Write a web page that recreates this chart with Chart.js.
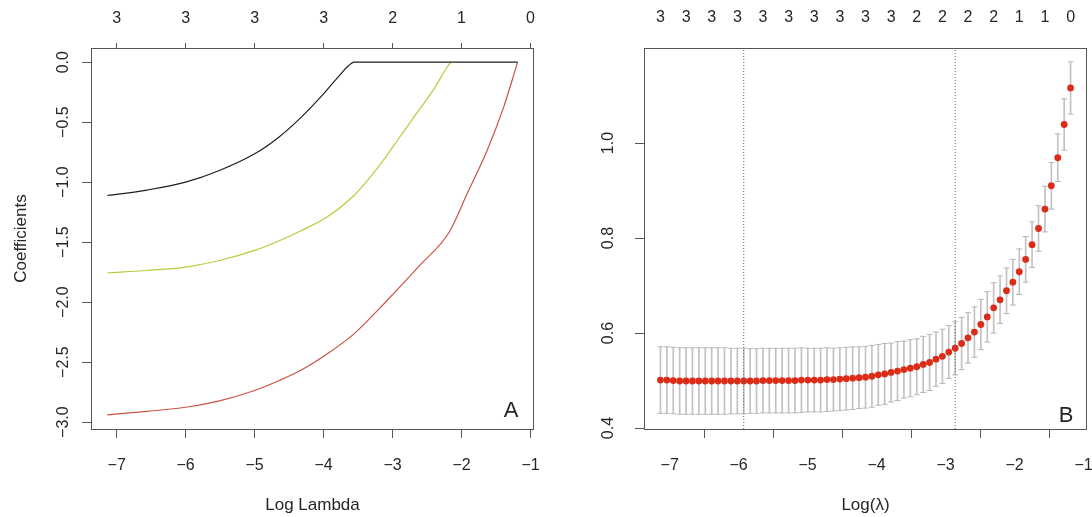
<!DOCTYPE html>
<html><head><meta charset="utf-8">
<script src="https://cdn.jsdelivr.net/npm/chart.js@4.4.1/dist/chart.umd.min.js"></script>
<style>
html,body{margin:0;padding:0;background:#fff;}
#wrap{position:relative;width:1092px;height:517px;background:#fff;}
canvas{position:absolute;top:0;}
#cA{left:0;} #cB{left:546px;}
</style></head><body>
<div id="wrap"><canvas id="cA" width="546" height="517"></canvas><canvas id="cB" width="546" height="517"></canvas></div>
<script>
// ---------- Panel A: coefficient paths ----------
const xTickValues = [-7, -6, -5, -4, -3, -2, -1];
const topLabelsA = ['3', '3', '3', '3', '2', '1', '0'];
const yTicksA = [-3, -2.5, -2, -1.5, -1, -0.5, 0];

const blackX = [-7.134, -6.56, -6.00, -5.51, -5.00, -4.65, -4.33, -4.04, -3.75, -3.64, -3.56, -1.188];
const blackY = [-1.111, -1.066, -1.000, -0.903, -0.764, -0.625, -0.462, -0.290, -0.097, -0.030, 0, 0];

const yellowX = [-7.134, -6.56, -6.00, -5.51, -5.00, -4.65, -4.33, -3.95, -3.56, -3.17, -2.88, -2.64, -2.40, -2.21, -2.16];
const yellowY = [-1.755, -1.736, -1.708, -1.653, -1.569, -1.490, -1.405, -1.290, -1.111, -0.845, -0.611, -0.417, -0.222, -0.042, 0];

const redX = [-7.134, -6.56, -6.00, -5.51, -5.00, -4.65, -4.33, -3.95, -3.56, -3.08, -2.60, -2.18, -1.92, -1.63, -1.39, -1.24, -1.188];
const redY = [-2.939, -2.910, -2.876, -2.822, -2.736, -2.655, -2.568, -2.432, -2.264, -1.986, -1.690, -1.417, -1.097, -0.736, -0.375, -0.100, 0];

// ---------- Panel B: cross-validation curve ----------
const logLambda = [-7.134, -7.041, -6.948, -6.855, -6.762, -6.670, -6.577, -6.484, -6.391, -6.298,
  -6.205, -6.112, -6.019, -5.926, -5.833, -5.741, -5.648, -5.555, -5.462, -5.369,
  -5.276, -5.183, -5.090, -4.997, -4.904, -4.812, -4.719, -4.626, -4.533, -4.440,
  -4.347, -4.254, -4.161, -4.068, -3.975, -3.883, -3.790, -3.697, -3.604, -3.511,
  -3.418, -3.325, -3.232, -3.139, -3.046, -2.954, -2.861, -2.768, -2.675, -2.582,
  -2.489, -2.396, -2.303, -2.210, -2.117, -2.025, -1.932, -1.839, -1.746, -1.653,
  -1.560, -1.467, -1.374, -1.281, -1.188];
const cvMean = [0.501, 0.501, 0.500, 0.499, 0.499, 0.499, 0.499, 0.499, 0.499, 0.499,
  0.499, 0.499, 0.499, 0.499, 0.499, 0.499, 0.500, 0.500, 0.500, 0.500,
  0.500, 0.500, 0.501, 0.501, 0.501, 0.501, 0.502, 0.502, 0.503, 0.504,
  0.505, 0.506, 0.507, 0.509, 0.512, 0.514, 0.517, 0.520, 0.523, 0.526,
  0.529, 0.534, 0.538, 0.545, 0.551, 0.560, 0.568, 0.578, 0.590, 0.602,
  0.618, 0.634, 0.653, 0.670, 0.689, 0.707, 0.729, 0.755, 0.786, 0.820,
  0.861, 0.910, 0.969, 1.039, 1.116];
const cvUpper = [0.571, 0.571, 0.570, 0.569, 0.569, 0.569, 0.569, 0.569, 0.569, 0.569,
  0.569, 0.568, 0.568, 0.568, 0.567, 0.567, 0.568, 0.568, 0.568, 0.568,
  0.568, 0.568, 0.569, 0.568, 0.568, 0.568, 0.569, 0.568, 0.569, 0.570,
  0.571, 0.571, 0.572, 0.574, 0.576, 0.578, 0.579, 0.582, 0.583, 0.586,
  0.588, 0.593, 0.597, 0.602, 0.608, 0.616, 0.624, 0.633, 0.643, 0.655,
  0.671, 0.687, 0.706, 0.720, 0.737, 0.755, 0.777, 0.803, 0.834, 0.868,
  0.909, 0.959, 1.019, 1.093, 1.171];
const cvLower = [0.431, 0.431, 0.430, 0.429, 0.429, 0.429, 0.429, 0.429, 0.429, 0.429,
  0.429, 0.430, 0.430, 0.430, 0.431, 0.431, 0.432, 0.432, 0.432, 0.432,
  0.432, 0.432, 0.433, 0.434, 0.434, 0.434, 0.435, 0.436, 0.437, 0.438,
  0.439, 0.441, 0.442, 0.444, 0.448, 0.450, 0.455, 0.458, 0.463, 0.466,
  0.470, 0.475, 0.479, 0.488, 0.494, 0.504, 0.512, 0.523, 0.537, 0.549,
  0.565, 0.581, 0.600, 0.620, 0.641, 0.659, 0.681, 0.707, 0.738, 0.772,
  0.813, 0.861, 0.919, 0.985, 1.061];
const lambdaMinLog = -5.926;
const lambda1seLog = -2.861;
const topPosB = [-7.134, -6.762, -6.391, -6.019, -5.648, -5.276, -4.904, -4.533, -4.161,
  -3.790, -3.418, -3.046, -2.675, -2.303, -1.932, -1.560, -1.188];
const topLabelsB = ['3', '3', '3', '3', '3', '3', '3', '3', '3', '3', '2', '2', '2', '2', '1', '1', '0'];
const yTicksB = [0.4, 0.6, 0.8, 1.0];

// ---------- axis limits / style ----------
const X_MIN = -7.372, X_MAX = -0.950;
const YA_MIN = -3.057, YA_MAX = 0.118;
const YB_MIN = 0.398, YB_MAX = 1.200;
const FONT = "'Liberation Sans', Arial, Helvetica, sans-serif";
const TXT = '#262626';
const AX = '#555555';

const minus = s => s.replace('-', '\u2212');
const fmtInt = v => minus(String(Math.round(v)));
const fmt1 = v => minus((Math.round(v * 10) / 10).toFixed(1));

function fixSize(prop, val) {
  return s => {
    s[prop] = val;
    s.paddingLeft = 0; s.paddingRight = 0; s.paddingTop = 0; s.paddingBottom = 0;
  };
}

const boxPlugin = {
  id: 'box',
  afterDatasetsDraw(chart) {
    const {ctx, chartArea: a} = chart;
    ctx.save();
    ctx.strokeStyle = AX; ctx.lineWidth = 1;
    ctx.strokeRect(Math.round(a.left) + 0.5, Math.round(a.top) + 0.5,
      Math.round(a.right - a.left) - 1, Math.round(a.bottom - a.top));
    ctx.restore();
  }
};
const letterPlugin = {
  id: 'letter',
  afterDraw(chart, args, opts) {
    const {ctx, chartArea: a} = chart;
    ctx.save();
    ctx.fillStyle = TXT;
    ctx.font = '22px ' + FONT;
    ctx.textAlign = 'center'; ctx.textBaseline = 'middle';
    ctx.fillText(opts.text, a.right + opts.dx, a.bottom + opts.dy);
    ctx.restore();
  }
};

function bottomAxis(title) {
  return {
    type: 'linear', position: 'bottom', min: X_MIN, max: X_MAX, offset: false,
    afterBuildTicks: s => { s.ticks = xTickValues.map(v => ({value: v})); },
    afterFit: fixSize('height', 88),
    grid: {display: true, drawOnChartArea: false, drawTicks: true, tickLength: 9, tickColor: AX, tickWidth: 1},
    border: {display: false},
    ticks: {autoSkip: false, maxRotation: 0, minRotation: 0, padding: 18, color: TXT,
      font: {family: FONT, size: 16}, callback: v => fmtInt(v)},
    title: {display: true, text: title, color: TXT, font: {family: FONT, size: 17}, padding: {top: 0, bottom: 1}}
  };
}

const common = {
  responsive: false, animation: false, devicePixelRatio: 1, events: [],
};

// ---------- Chart A ----------
new Chart(document.getElementById('cA'), {
  type: 'line',
  data: {
    datasets: [
      {data: redX.map((x, i) => ({x, y: redY[i]})), borderColor: '#c9533f', borderWidth: 1.2,
        pointRadius: 0, cubicInterpolationMode: 'monotone', fill: false, order: 3},
      {data: yellowX.map((x, i) => ({x, y: yellowY[i]})), borderColor: '#b7cc3c', borderWidth: 1.2,
        pointRadius: 0, cubicInterpolationMode: 'monotone', fill: false, order: 2},
      {data: blackX.map((x, i) => ({x, y: blackY[i]})), borderColor: '#1e1e1e', borderWidth: 1.2,
        pointRadius: 0, cubicInterpolationMode: 'monotone', fill: false, order: 1}
    ]
  },
  options: Object.assign({}, common, {
    layout: {padding: {left: 0, right: 12, top: 0, bottom: 0}},
    plugins: {legend: {display: false}, tooltip: {enabled: false}, letter: {text: 'A', dx: -23, dy: -18}},
    scales: {
      x: bottomAxis('Log Lambda'),
      x2: {
        type: 'linear', position: 'top', min: X_MIN, max: X_MAX, offset: false,
        afterBuildTicks: s => { s.ticks = xTickValues.map(v => ({value: v})); },
        afterFit: fixSize('height', 48),
        grid: {display: true, drawOnChartArea: false, drawTicks: true, tickLength: 5, tickColor: AX},
        border: {display: false},
        ticks: {autoSkip: false, maxRotation: 0, minRotation: 0, padding: 15, color: TXT,
          font: {family: FONT, size: 16}, callback: (v, i) => topLabelsA[i]}
      },
      y: {
        type: 'linear', position: 'left', min: YA_MIN, max: YA_MAX,
        afterBuildTicks: s => { s.ticks = yTicksA.map(v => ({value: v})); },
        afterFit: fixSize('width', 91),
        grid: {display: true, drawOnChartArea: false, drawTicks: true, tickLength: 9, tickColor: AX},
        border: {display: false},
        ticks: {autoSkip: false, minRotation: 90, maxRotation: 90, crossAlign: 'center', padding: 3,
          color: TXT, font: {family: FONT, size: 16}, callback: v => fmt1(v)},
        title: {display: true, text: 'Coefficients', color: TXT, font: {family: FONT, size: 17}, padding: {top: 11, bottom: 0}}
      }
    }
  }),
  plugins: [boxPlugin, letterPlugin]
});

// ---------- Chart B ----------
new Chart(document.getElementById('cB'), {
  type: 'line',
  data: {
    datasets: [
      {type: 'line', data: [{x: lambdaMinLog, y: YB_MIN}, {x: lambdaMinLog, y: YB_MAX}], borderColor: '#666',
        borderWidth: 1, borderDash: [1, 2], pointRadius: 0, fill: false, order: 0},
      {type: 'line', data: [{x: lambda1seLog, y: YB_MIN}, {x: lambda1seLog, y: YB_MAX}], borderColor: '#666',
        borderWidth: 1, borderDash: [1, 2], pointRadius: 0, fill: false, order: 0},
      {type: 'scatter', data: logLambda.map((x, i) => ({x, y: cvMean[i]})), backgroundColor: '#dc2b16',
        borderColor: '#dc2b16', borderWidth: 0, pointRadius: 3.4, order: 1},
      {type: 'scatter', data: logLambda.map((x, i) => ({x, y: cvUpper[i]})), pointStyle: 'line',
        borderColor: '#b8b8b8', borderWidth: 1, pointRadius: 3, order: 2},
      {type: 'scatter', data: logLambda.map((x, i) => ({x, y: cvLower[i]})), pointStyle: 'line',
        borderColor: '#b8b8b8', borderWidth: 1, pointRadius: 3, order: 2},
      {type: 'bar', data: logLambda.map((x, i) => ({x, y: [cvLower[i], cvUpper[i]]})), backgroundColor: '#c2c2c2',
        borderWidth: 0, barThickness: 1, order: 3}
    ]
  },
  options: Object.assign({}, common, {
    layout: {padding: {left: 0, right: 2, top: 0, bottom: 0}},
    plugins: {legend: {display: false}, tooltip: {enabled: false}, letter: {text: 'B', dx: -21, dy: -13}},
    scales: {
      x: bottomAxis('Log(\u03BB)'),
      x2: {
        type: 'linear', position: 'top', min: X_MIN, max: X_MAX, offset: false,
        afterBuildTicks: s => { s.ticks = topPosB.map(v => ({value: v})); },
        afterFit: fixSize('height', 48),
        grid: {display: false, drawOnChartArea: false, drawTicks: false},
        border: {display: false},
        ticks: {autoSkip: false, maxRotation: 0, minRotation: 0, padding: 21, color: TXT,
          font: {family: FONT, size: 16}, callback: (v, i) => topLabelsB[i]}
      },
      y: {
        type: 'linear', position: 'left', min: YB_MIN, max: YB_MAX,
        afterBuildTicks: s => { s.ticks = yTicksB.map(v => ({value: v})); },
        afterFit: fixSize('width', 98),
        grid: {display: true, drawOnChartArea: false, drawTicks: true, tickLength: 9, tickColor: AX},
        border: {display: false},
        ticks: {autoSkip: false, minRotation: 90, maxRotation: 90, crossAlign: 'center', padding: 15,
          color: TXT, font: {family: FONT, size: 16}, callback: v => fmt1(v)}
      }
    }
  }),
  plugins: [boxPlugin, letterPlugin]
});
</script>
</body></html>
